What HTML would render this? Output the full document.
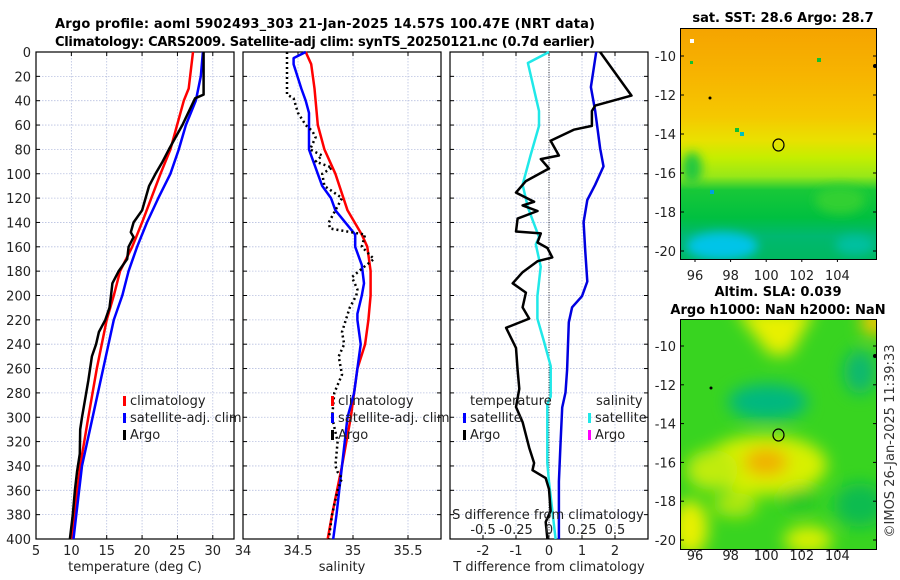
<!DOCTYPE html>
<html><head><meta charset="utf-8"><style>
html,body{margin:0;padding:0;background:#fff;}
svg{display:block;font-family:"DejaVu Sans","Liberation Sans",sans-serif;}
</style></head><body>
<svg id="c" width="900" height="580" viewBox="0 0 900 580">
<defs>
 <linearGradient id="sstg" x1="0" y1="0" x2="0" y2="1">
  <stop offset="0" stop-color="#f5a400"/><stop offset="0.2" stop-color="#f7b400"/>
  <stop offset="0.38" stop-color="#f5c800"/><stop offset="0.48" stop-color="#eae000"/>
  <stop offset="0.56" stop-color="#c4ee00"/><stop offset="0.64" stop-color="#98e818"/>
  <stop offset="0.7" stop-color="#18c838"/><stop offset="0.82" stop-color="#00c040"/>
  <stop offset="0.9" stop-color="#00b870"/><stop offset="1" stop-color="#00b860"/>
 </linearGradient>
 <clipPath id="clipTop"><rect x="681" y="29" width="195" height="230"/></clipPath>
 <clipPath id="clipBot"><rect x="681" y="320" width="195" height="229"/></clipPath>
 <filter id="blur8" x="-20%" y="-20%" width="140%" height="140%"><feGaussianBlur stdDeviation="8"/></filter>
 <filter id="blur5" x="-20%" y="-20%" width="140%" height="140%"><feGaussianBlur stdDeviation="5"/></filter>
</defs>
<g id="titles">
 <text x="325" y="28" font-size="13" font-weight="bold" text-anchor="middle" textLength="540">Argo profile: aoml 5902493_303 21-Jan-2025 14.57S 100.47E (NRT data)</text>
 <text x="325" y="46" font-size="13" font-weight="bold" text-anchor="middle" textLength="540">Climatology: CARS2009. Satellite-adj clim: synTS_20250121.nc (0.7d earlier)</text>
 <text x="783" y="22" font-size="13" font-weight="bold" text-anchor="middle">sat. SST: 28.6 Argo: 28.7</text>
 <text x="778" y="296" font-size="13" font-weight="bold" text-anchor="middle">Altim. SLA: 0.039</text>
 <text x="778" y="314" font-size="13" font-weight="bold" text-anchor="middle">Argo h1000: NaN h2000: NaN</text>
 <text transform="translate(894,441) rotate(-90)" font-size="13" text-anchor="middle" fill="#333">©IMOS 26-Jan-2025 11:39:33</text>
</g>
<g id="maps">
 <g>
  <g clip-path="url(#clipTop)">
   <rect x="681" y="29" width="195" height="230" fill="url(#sstg)"/>
   <g filter="url(#blur5)">
    <ellipse cx="722" cy="246" rx="36" ry="14" fill="#00c4e8"/>
    <ellipse cx="855" cy="245" rx="20" ry="10" fill="#00c0a0"/>
    <ellipse cx="840" cy="200" rx="25" ry="14" fill="#30d030"/>
    <ellipse cx="692" cy="168" rx="10" ry="16" fill="#20c840"/>
   </g>
  </g>
  <rect x="690" y="39" width="4" height="4" fill="#fff"/>
  <rect x="690" y="61" width="3" height="3" fill="#10c030"/>
  <rect x="817" y="58" width="4" height="4" fill="#10c030"/>
  <rect x="735" y="128" width="4" height="4" fill="#10c030"/>
  <rect x="740" y="132" width="4" height="4" fill="#00c0c0"/>
  <rect x="710" y="190" width="4" height="4" fill="#00a0e0"/>
  <circle cx="710" cy="98" r="1.5" fill="#000"/>
  <circle cx="875" cy="66" r="2" fill="#000"/>
  <ellipse cx="778.5" cy="145" rx="5.5" ry="6" fill="none" stroke="#000" stroke-width="1.2"/>
  <rect x="680.5" y="28.5" width="196" height="231" fill="none" stroke="#000" stroke-width="1"/>
 </g>
 <g>
  <g clip-path="url(#clipBot)">
   <rect x="681" y="320" width="195" height="229" fill="#38d420"/>
   <g filter="url(#blur8)">
    <path d="M735,310 L815,310 L790,355 L770,355 Z" fill="#e8f000"/>
    <ellipse cx="875" cy="322" rx="14" ry="14" fill="#f0c800"/>
    <ellipse cx="768" cy="402" rx="40" ry="18" fill="#00b880"/>
    <ellipse cx="860" cy="372" rx="16" ry="22" fill="#10b870"/>
    <ellipse cx="860" cy="505" rx="26" ry="22" fill="#10bc50"/>
    <ellipse cx="765" cy="465" rx="62" ry="30" fill="#d8f000"/>
    <ellipse cx="712" cy="470" rx="26" ry="20" fill="#c0ec10"/>
    <ellipse cx="766" cy="462" rx="22" ry="14" fill="#f0b000"/>
    <ellipse cx="690" cy="528" rx="18" ry="28" fill="#e8f000"/>
    <ellipse cx="808" cy="540" rx="24" ry="14" fill="#d8f000"/>
    <ellipse cx="735" cy="505" rx="22" ry="12" fill="#b0e810"/>
    <ellipse cx="800" cy="500" rx="18" ry="12" fill="#28c828"/>
   </g>
  </g>
  <circle cx="711" cy="388" r="1.5" fill="#000"/>
  <circle cx="875" cy="356" r="2" fill="#000"/>
  <ellipse cx="778.5" cy="435" rx="5.5" ry="6" fill="none" stroke="#000" stroke-width="1.2"/>
  <rect x="680.5" y="319.5" width="196" height="230" fill="none" stroke="#000" stroke-width="1"/>
 </g>
</g>
<g id="plots"></g>
</svg>
<script>
// ---- data (depth in m) ----
const argoTDepth = [0,35,38,60,80,90,100,110,120,130,140,148,152,160,170,180,190,200,210,220,230,240,250,270,280,300,310,330,345,360,380,400];
const argoTemp   = [28.7,28.7,27.5,25.7,23.8,22.9,21.9,21.0,20.5,20.0,18.8,18.4,18.8,18.1,17.9,16.7,15.8,15.6,15.4,14.8,13.9,13.5,12.9,12.4,12.1,11.5,11.25,11.2,10.8,10.5,10.2,9.8];
const climTDepth = [0,30,40,80,100,140,160,180,200,220,260,300,340,380,400];
const climTemp   = [27.2,26.6,25.9,24.0,22.6,20.0,18.6,16.9,16.0,15.0,13.6,12.4,11.25,10.4,10.0];
const satTDepth  = [0,20,40,60,80,100,120,140,160,180,200,220,260,300,340,380,400];
const satTemp    = [28.6,28.3,27.6,26.2,25.2,24.0,22.3,20.7,19.3,18.1,17.2,16.0,14.5,13.0,11.5,10.7,10.3];

const climSDepth = [0,10,30,60,80,100,130,150,160,180,200,220,240,260,300,340,380,400];
const climSal    = [34.57,34.62,34.65,34.68,34.74,34.84,34.95,35.08,35.13,35.16,35.16,35.14,35.11,35.04,34.98,34.90,34.81,34.77];
const satSDepth  = [0,5,10,30,40,50,60,80,100,110,120,130,140,150,160,175,190,200,215,220,240,260,280,300,340,380,400];
const satSal     = [34.57,34.46,34.46,34.53,34.57,34.60,34.60,34.60,34.68,34.72,34.80,34.84,34.93,35.02,35.02,35.08,35.10,35.08,35.04,35.04,35.07,35.04,35.01,34.95,34.90,34.85,34.82];
const argoSDepth = [0,35,38,50,60,65,70,80,85,90,95,100,110,120,125,140,145,150,160,170,178,185,195,200,210,230,240,250,265,280,300,320,340,345,350,360,380,400];
const argoSal    = [34.40,34.40,34.46,34.50,34.57,34.63,34.66,34.61,34.72,34.66,34.81,34.72,34.74,34.90,34.87,34.78,34.79,35.11,35.08,35.19,35.08,34.99,35.04,35.03,34.97,34.90,34.92,34.87,34.90,34.83,34.81,34.86,34.84,34.86,34.90,34.86,34.81,34.78];

const dTArgoDepth = [0,35.8,44,48.5,60.7,63.8,72.9,85,88,95.7,106,115.5,123,126,130.6,136.8,147.4,149,156.5,161,168.7,171.8,180.9,190,197.6,209.8,219,226.5,243,261,276.6,291.6,304,325,337.6,343.5,350,359,377,386,400];
const dTArgo      = [1.55,2.5,1.4,1.3,1.3,0.75,0.05,0.3,-0.25,0,-0.7,-1.0,-0.45,-0.8,-0.35,-0.95,-1.0,-0.25,-0.35,-0.05,0.1,-0.35,-0.8,-1.1,-0.7,-0.8,-0.6,-1.3,-1.0,-0.95,-0.9,-1.0,-0.8,-0.6,-0.45,-0.5,-0.1,0,0.05,-0.1,-0.05];
const dTSatDepth  = [0,28.8,48.5,79,94,109,121.6,139.8,164,188.5,200.6,209.7,222,261,279.7,292,322,352.8,400];
const dTSat       = [1.43,1.27,1.4,1.55,1.65,1.4,1.16,1.05,1.1,1.16,1.0,0.7,0.6,0.55,0.5,0.4,0.35,0.3,0.3];
const dSSatDepth  = [0,9,48.5,60.7,85,109,127.6,152,158,176.3,200.6,219,237,258,283,289,337.6,353,400];
const dSSat       = [0,-0.16,-0.076,-0.076,-0.14,-0.2,-0.16,-0.076,-0.1,-0.063,-0.088,-0.088,-0.04,0.013,0.013,-0.013,-0.013,0,0.05];

const depthTicks = [0,20,40,60,80,100,120,140,160,180,200,220,240,260,280,300,320,340,360,380,400];
const tTicks = [5,10,15,20,25,30];
const sTicks = [34,34.5,35,35.5];
const sTickLabels = ["34","34.5","35","35.5"];
const dtTicks = [-2,-1,0,1,2];
const dsTicks = [-0.5,-0.25,0,0.25,0.5];
const dsTickLabels = ["-0.5","-0.25","0","0.25","0.5"];
const latTicks = [-10,-12,-14,-16,-18,-20];
const lonTicks = [96,98,100,102,104];

// ---- axis functions ----
const Y0=52, Y1=539;
const yD = d => Y0 + d*(Y1-Y0)/400;
const lin = (d0,d1,r0,r1) => v => r0 + (v-d0)*(r1-r0)/(d1-d0);
const P1={x0:36,x1:234}, P2={x0:243,x1:441}, P3={x0:450,x1:648};
const xT = lin(5,33,P1.x0,P1.x1);
const xS = lin(34,35.8,P2.x0,P2.x1);
const xDT = lin(-3,3,P3.x0,P3.x1);
const xDS = lin(-0.75,0.75,P3.x0,P3.x1);
const yLatTop = lat => 56 + (-10-lat)*19.5;
const yLatBot = lat => 346 + (-10-lat)*19.4;
const xLon = lon => 695 + (lon-96)*17.8;

const NS="http://www.w3.org/2000/svg";
const root=document.getElementById('plots');
function mk(tag,attrs,parent){const e=document.createElementNS(NS,tag);for(const k in attrs)e.setAttribute(k,attrs[k]);(parent||root).appendChild(e);return e;}
function txt(x,y,s,size,anchor,parent){const t=mk('text',{x:x,y:y,'font-size':size,'text-anchor':anchor||'middle',fill:'#222'},parent);t.textContent=s;return t;}

function panel(P,name,xticks,xf,xlabels,xtitle){
  const g=mk('g',{});
  
  
  const gg=mk('g',{stroke:'#b8c0e0','stroke-width':0.8,'stroke-dasharray':'1.5,1.5'},g);
  depthTicks.forEach(d=>{ if(d>0&&d<400) mk('line',{x1:P.x0,x2:P.x1,y1:yD(d),y2:yD(d)},gg); });
  xticks.forEach(v=>{const x=xf(v); if(x>P.x0+1&&x<P.x1-1) mk('line',{x1:x,x2:x,y1:Y0,y2:Y1},gg);});
  const tk=mk('g',{stroke:'#000','stroke-width':1},g);
  depthTicks.forEach(d=>{mk('line',{x1:P.x0,x2:P.x0+4,y1:yD(d),y2:yD(d)},tk);mk('line',{x1:P.x1-4,x2:P.x1,y1:yD(d),y2:yD(d)},tk);});
  xticks.forEach(v=>{const x=xf(v);mk('line',{x1:x,x2:x,y1:Y1,y2:Y1-4},tk);mk('line',{x1:x,x2:x,y1:Y0,y2:Y0+4},tk);});
  if(xlabels) xticks.forEach((v,i)=>{const t=txt(xf(v),555,xlabels[i],13,'middle',g);});
  const xt=txt((P.x0+P.x1)/2,571,xtitle,13,'middle',g);
  
  
  mk('rect',{x:P.x0,y:Y0,width:P.x1-P.x0,height:Y1-Y0,fill:'none',stroke:'#000','stroke-width':1.2},g);
  return g;
}
function line(depths,vals,xf,color,w,g,name,dash){
  const pts=depths.map((d,i)=>xf(vals[i]).toFixed(1)+','+yD(d).toFixed(1)).join(' ');
  const a={points:pts,fill:'none',stroke:color,'stroke-width':w,'stroke-linejoin':'round'};
  if(dash)a['stroke-dasharray']=dash;
  const p=mk('polyline',a,g);
  
  
}
function legend(x,y,items,g){
  items.forEach((it,i)=>{
    const yy=y+i*17;
    mk('rect',{x:x,y:yy-9,width:3,height:10,fill:it[1]},g);
    const t=txt(x+7,yy,it[0],13,'start',g);
    
    
  });
}

depthTicks.forEach(d=>{const t=txt(31,yD(d)+5,String(d),13,'end');});

const g1=panel(P1,'temperature-panel',tTicks,xT,tTicks.map(String),'temperature (deg C)');
line(climTDepth,climTemp,xT,'#f00',2.5,g1,'temp-climatology-line');
line(satTDepth,satTemp,xT,'#00f',2.5,g1,'temp-satellite-line');
line(argoTDepth,argoTemp,xT,'#000',2.5,g1,'temp-argo-line');
legend(123,405,[['climatology','#f00'],['satellite-adj. clim','#00f'],['Argo','#000']],g1);

const g2=panel(P2,'salinity-panel',sTicks,xS,sTickLabels,'salinity');
line(climSDepth,climSal,xS,'#f00',2.5,g2,'sal-climatology-line');
line(satSDepth,satSal,xS,'#00f',2.5,g2,'sal-satellite-line');
line(argoSDepth,argoSal,xS,'#000',2.5,g2,'sal-argo-line','2,3');
legend(331,405,[['climatology','#f00'],['satellite-adj. clim','#00f'],['Argo','#000']],g2);

const g3=panel(P3,'difference-panel',dtTicks,xDT,dtTicks.map(String),'T difference from climatology');
mk('line',{x1:xDT(0),x2:xDT(0),y1:Y0,y2:Y1,stroke:'#333','stroke-width':1,'stroke-dasharray':'1,1.5'},g3);
line(dSSatDepth,dSSat,xDS,'#20e8e8',2.5,g3,'sal-diff-satellite-line');
line(dTSatDepth,dTSat,xDT,'#0000e0',2.5,g3,'temp-diff-satellite-line');
line(dTArgoDepth,dTArgo,xDT,'#000',2.5,g3,'temp-diff-argo-line');
txt(470,405,'temperature',13,'start',g3);
txt(596,405,'salinity',13,'start',g3);
legend(463,422,[['satellite','#00f'],['Argo','#000']],g3);
legend(588,422,[['satellite','#20e8e8'],['Argo','#f0f']],g3);
const st=txt(548,519,'S difference from climatology',13,'middle',g3);


dsTicks.forEach((v,i)=>{const t=txt(xDS(v),534,dsTickLabels[i],13,'middle',g3);});

const mg=mk('g',{});


latTicks.forEach(l=>{
  txt(676,yLatTop(l)+5,String(l),13,'end',mg);
  txt(676,yLatBot(l)+5,String(l),13,'end',mg);
  mk('line',{x1:681,x2:684,y1:yLatTop(l),y2:yLatTop(l),stroke:'#000'},mg);
  mk('line',{x1:873,x2:876,y1:yLatTop(l),y2:yLatTop(l),stroke:'#000'},mg);
  mk('line',{x1:681,x2:684,y1:yLatBot(l),y2:yLatBot(l),stroke:'#000'},mg);
  mk('line',{x1:873,x2:876,y1:yLatBot(l),y2:yLatBot(l),stroke:'#000'},mg);
});
lonTicks.forEach(l=>{
  txt(xLon(l),280,String(l),13,'middle',mg);
  txt(xLon(l),560,String(l),13,'middle',mg);
  mk('line',{x1:xLon(l),x2:xLon(l),y1:259,y2:262,stroke:'#000'},mg);
  mk('line',{x1:xLon(l),x2:xLon(l),y1:549,y2:552,stroke:'#000'},mg);
});
</script>
</body></html>
